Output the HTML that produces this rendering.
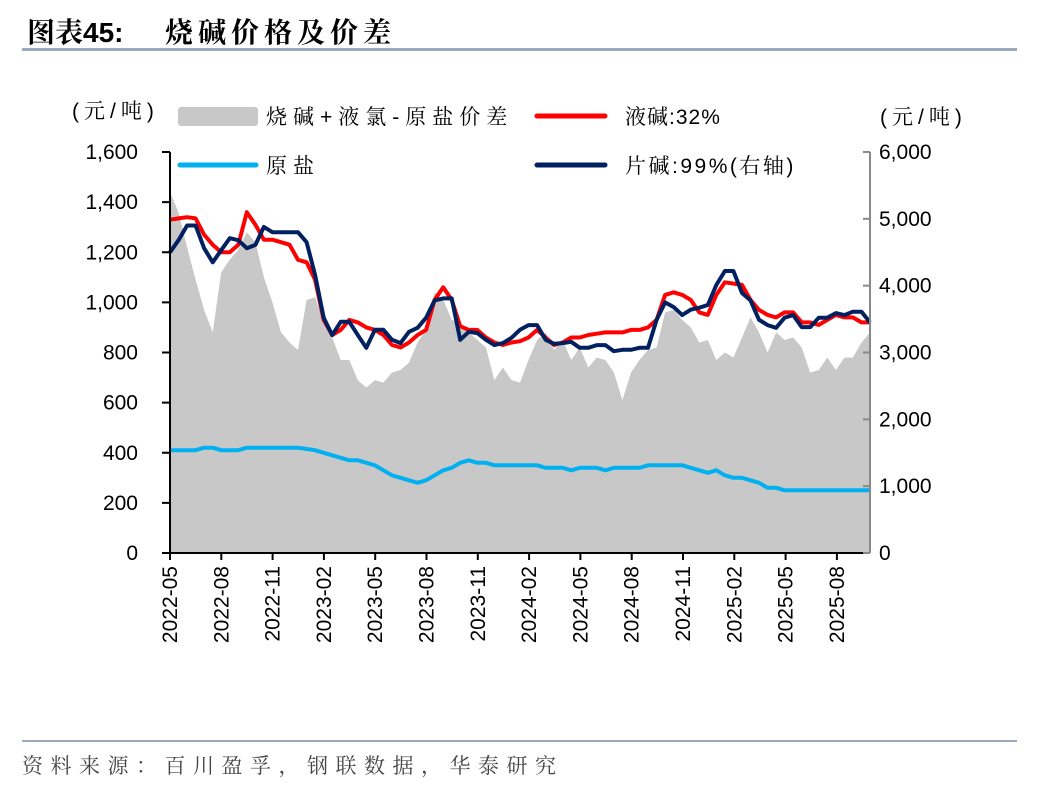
<!DOCTYPE html>
<html><head><meta charset="utf-8"><style>
body{margin:0;background:#fff;width:1052px;height:792px;overflow:hidden;font-family:"Liberation Sans","Noto Serif CJK SC",serif;}
svg text{font-family:"Liberation Sans","Noto Serif CJK SC",serif;}
</style></head><body>
<svg id="c" width="1052" height="792" xmlns="http://www.w3.org/2000/svg">
<text x="27" y="42" font-size="28" font-weight="bold" fill="#000">图表45:<tspan x="165" letter-spacing="5">烧碱价格及价差</tspan></text>
<rect x="22" y="48" width="995" height="3" fill="#9aabbf"/>
<rect x="22" y="740" width="995" height="2" fill="#9aabbf"/>
<text x="22" y="773" font-size="21" fill="#444" letter-spacing="7.5">资料来源：百川盈孚，钢联数据，华泰研究</text>
<text x="72" y="118" font-size="21" letter-spacing="5">(元/吨)</text>
<text x="880" y="124" font-size="21" letter-spacing="5">(元/吨)</text>
<g id="plot"></g>
<g>
<rect x="178" y="107" width="80" height="19" rx="3" fill="#c8c8c8"/>
<text x="266" y="124" font-size="21" letter-spacing="6">烧碱+液氯-原盐价差</text>
<line x1="537" y1="116" x2="605" y2="116" stroke="#ff0000" stroke-width="5" stroke-linecap="round"/>
<text x="625" y="124" font-size="21" letter-spacing="1">液碱:32%</text>
<line x1="180" y1="165" x2="256" y2="165" stroke="#00b0f0" stroke-width="5" stroke-linecap="round"/>
<text x="266" y="173" font-size="21" letter-spacing="6">原盐</text>
<line x1="537" y1="165" x2="605" y2="165" stroke="#002060" stroke-width="5" stroke-linecap="round"/>
<text x="625" y="173" font-size="21" letter-spacing="2.5">片碱:99%(右轴)</text>
</g>
</svg>
<script>
const liquid=[1330,1335,1340,1335,1270,1230,1200,1200,1230,1360,1310,1250,1250,1240,1230,1170,1160,1090,930,870,890,930,920,900,890,870,830,820,840,870,890,1010,1060,1010,905,890,890,860,840,830,840,845,860,890,860,830,840,860,860,870,875,880,880,880,890,890,900,930,1030,1040,1030,1010,960,950,1030,1080,1075,1070,1010,970,950,940,960,960,920,920,910,930,950,940,940,920,920];
const flake=[4500,4680,4900,4900,4560,4350,4530,4710,4680,4560,4610,4880,4800,4800,4800,4800,4650,4160,3520,3260,3460,3460,3260,3070,3340,3340,3190,3140,3310,3370,3520,3780,3810,3810,3190,3310,3290,3190,3110,3140,3220,3340,3410,3410,3190,3130,3140,3160,3070,3070,3110,3110,3020,3040,3040,3070,3070,3490,3750,3680,3560,3640,3670,3710,4010,4220,4220,3890,3780,3490,3410,3370,3520,3560,3380,3380,3520,3520,3590,3560,3610,3610,3450];
const salt=[410,410,410,410,420,420,410,410,410,420,420,420,420,420,420,420,415,410,400,390,380,370,370,360,350,330,310,300,290,280,290,310,330,340,360,370,360,360,350,350,350,350,350,350,340,340,340,330,340,340,340,330,340,340,340,340,350,350,350,350,350,340,330,320,330,310,300,300,290,280,260,260,250,250,250,250,250,250,250,250,250,250,250];
const spread=[1440,1360,1220,1090,970,880,1120,1170,1210,1280,1240,1100,1000,880,840,810,1010,1020,920,860,770,770,690,660,690,680,720,730,760,840,890,1040,1010,930,920,880,850,820,690,740,690,680,770,850,880,810,850,770,820,740,780,770,720,610,720,770,810,820,960,970,930,900,840,850,770,800,780,860,940,880,800,880,850,860,820,720,730,780,730,780,780,840,880];
const yTicksL=[0,200,400,600,800,"1,000","1,200","1,400","1,600"];
const yTicksR=[0,"1,000","2,000","3,000","4,000","5,000","6,000"];
const xLabels=["2022-05","2022-08","2022-11","2023-02","2023-05","2023-08","2023-11","2024-02","2024-05","2024-08","2024-11","2025-02","2025-05","2025-08"];

const X0=170,X1=870,Y0=553,Y1=152;
const N=spread.length;
const monthPx=17.1;
const xIdx=i=>X0+i*(X1-X0)/(N-1);
const yL=v=>Y0-v/1600*(Y0-Y1);
const yR=v=>Y0-v/6000*(Y0-Y1);
const NS="http://www.w3.org/2000/svg";
const plot=document.getElementById('plot');
function mk(t,a){const e=document.createElementNS(NS,t);for(const k in a)e.setAttribute(k,a[k]);plot.appendChild(e);return e;}

let d=`M${X0},${Y0}`;spread.forEach((v,i)=>d+=`L${xIdx(i).toFixed(1)},${yL(v).toFixed(1)}`);d+=`L${xIdx(N-1)},${Y0}Z`;
const area=mk('path',{d:d,fill:'#c8c8c8'});



function line(arr,f,col,name){const p=arr.map((v,i)=>`${xIdx(i).toFixed(1)},${f(v).toFixed(1)}`).join(' ');
const e=mk('polyline',{points:p,fill:'none',stroke:col,'stroke-width':4,'stroke-linejoin':'round'});

}
line(salt,yL,'#00b0f0','salt-line');
line(liquid,yL,'#ff0000','liquid-caustic-line');
line(flake,yR,'#002060','flake-caustic-line');

const la=mk('line',{x1:X0,y1:Y1,x2:X0,y2:Y0+1,stroke:'#000','stroke-width':2});


const ra=mk('line',{x1:X1,y1:Y1,x2:X1,y2:Y0,stroke:'#888','stroke-width':2});


const ba=mk('line',{x1:X0,y1:Y0,x2:X1,y2:Y0,stroke:'#000','stroke-width':2});



yTicksL.forEach((t,i)=>{const v=i*200,y=yL(v);
mk('line',{x1:X0-8,y1:y,x2:X0,y2:y,stroke:'#000','stroke-width':2});
const e=mk('text',{x:X0-32,y:y+7,'font-size':21,'text-anchor':'end'});e.textContent=t;

});
yTicksR.forEach((t,i)=>{const v=i*1000,y=yR(v);
mk('line',{x1:X1-7,y1:y,x2:X1,y2:y,stroke:'#888','stroke-width':2});
const e=mk('text',{x:X1+9,y:y+7,'font-size':21});e.textContent=t;

});
xLabels.forEach((t,i)=>{const x=X0+i*3*monthPx;
mk('line',{x1:x,y1:Y0,x2:x,y2:Y0+7,stroke:'#000','stroke-width':2});
const e=mk('text',{x:0,y:0,'font-size':21,'text-anchor':'end',transform:`translate(${x+7},${Y0+13}) rotate(-90)`});e.textContent=t;

});
</script>
</body></html>
